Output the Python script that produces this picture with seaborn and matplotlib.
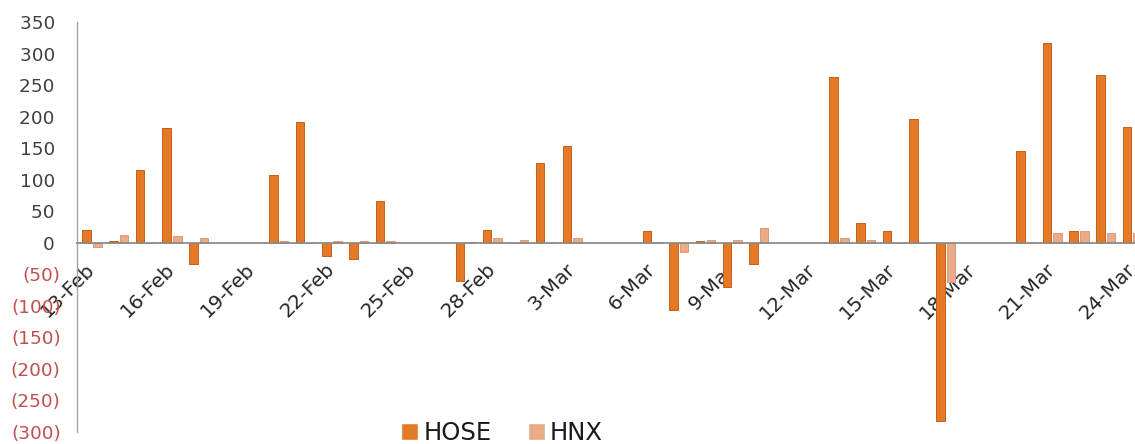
import matplotlib
matplotlib.use("Agg")
import matplotlib.pyplot as plt
import seaborn as sns
import pandas as pd
import numpy as np

# ---- data ----
all_days = pd.date_range("2017-02-13", "2017-03-24", freq="D")
day_labels = [f"{d.day}-{d.strftime('%b')}" for d in all_days]

trading_days = ["13-Feb", "14-Feb", "15-Feb", "16-Feb", "17-Feb",
                "20-Feb", "21-Feb", "22-Feb", "23-Feb", "24-Feb",
                "27-Feb", "28-Feb", "1-Mar", "2-Mar", "3-Mar",
                "6-Mar", "7-Mar", "8-Mar", "9-Mar", "10-Mar",
                "13-Mar", "14-Mar", "15-Mar", "16-Mar", "17-Mar",
                "20-Mar", "21-Mar", "22-Mar", "23-Mar", "24-Mar"]
hose = [21, 3, 116, 182, -34,
        108, 192, -21, -26, 67,
        -60, 21, 0, 126, 154,
        19, -106, 3, -70, -34,
        263, 32, 19, 197, -283,
        146, 317, 19, 266, 184]
hnx = [-6, 13, 0, 11, 8,
       3, 0, 3, 3, 3,
       2, 8, 5, 0, 8,
       2, -14, 5, 5, 24,
       8, 5, 0, 0, -62,
       0, 16, 19, 16, 16]
series_names = ["HOSE", "HNX"]
series_colors = ["#E47A26", "#EBAA88"]
y_ticks = list(range(-300, 351, 50))
x_tick_step = 3

df = pd.DataFrame({
    "day": trading_days * 2,
    "exchange": [series_names[0]] * len(trading_days) + [series_names[1]] * len(trading_days),
    "value": hose + hnx,
})

# ---- figure ----
sns.set_style("white")
plt.rcParams["font.family"] = ["DejaVu Sans"]

fig = plt.figure(figsize=(11.35, 4.44), dpi=100)
ax = fig.add_axes([77.3 / 1135, 12 / 444, 1 - 77.3 / 1135, (432 - 22) / 444])

sns.barplot(data=df, x="day", y="value", hue="exchange",
            order=day_labels, hue_order=series_names,
            palette=series_colors, saturation=1, width=0.8, gap=0.2,
            errorbar=None, ax=ax, legend=True)

for cont, ec in zip(ax.containers, ["#C4611B", "#DC9A78"]):
    for p in cont:
        p.set_edgecolor(ec)
        p.set_linewidth(0.7)

ax.set_xlim(-0.55, 39.1)
ax.set_ylim(-300, 350)

# spines
for s in ["top", "right"]:
    ax.spines[s].set_visible(False)
ax.spines["left"].set_color("#A6A6A6")
ax.spines["left"].set_linewidth(1.0)
ax.spines["bottom"].set_position(("data", 0))
ax.spines["bottom"].set_color("#8C8C8C")
ax.spines["bottom"].set_linewidth(1.3)

# y ticks
ax.set_yticks(y_ticks)
ylabs = [f"{v} " if v >= 0 else f"({abs(v)})" for v in y_ticks]
ax.set_yticklabels(ylabs, fontsize=13.3)
for t, v in zip(ax.get_yticklabels(), y_ticks):
    t.set_color("#404040" if v >= 0 else "#C0504D")
ax.tick_params(axis="y", length=0, pad=12)

# x ticks
xt = list(range(0, len(day_labels), x_tick_step))
ax.set_xticks(xt)
ax.set_xticklabels([day_labels[i] for i in xt], fontsize=14.3, color="#262626",
                   rotation=45, ha="right", va="center", rotation_mode="anchor")
ax.tick_params(axis="x", length=0, pad=17)

ax.set_xlabel("")
ax.set_ylabel("")
ax.grid(False)

# legend
handles, labels = ax.get_legend_handles_labels()
ax.get_legend().remove()
fig.legend(handles, labels, loc="center", bbox_to_anchor=(502 / 1135, 1 - 433 / 444),
           ncol=2, frameon=False, fontsize=17.5, handlelength=0.7, handleheight=0.7,
           handletextpad=0.2, columnspacing=1.5, labelcolor="#1a1a1a")

fig.savefig("out.png", dpi=100)
